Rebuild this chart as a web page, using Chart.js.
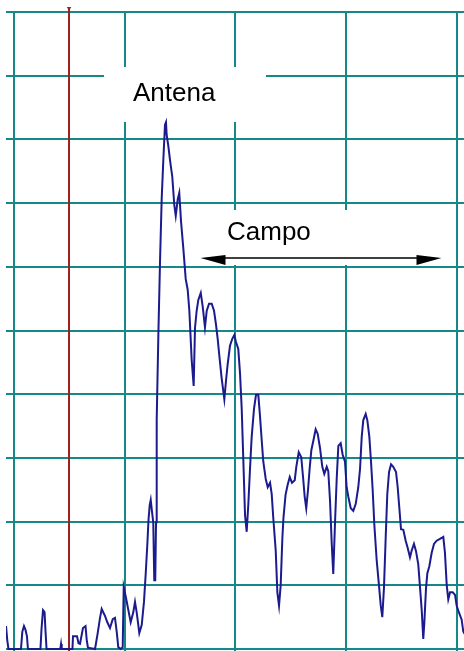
<!DOCTYPE html>
<html>
<head>
<meta charset="utf-8">
<script src="https://cdn.jsdelivr.net/npm/chart.js@4"></script>
<style>
  html, body { margin: 0; padding: 0; background: #ffffff; overflow: hidden; }
  canvas { display: block; }
</style>
</head>
<body>
<canvas id="c" width="464" height="651"></canvas>
<script>
// Spectrum trace: horizontal position (arbitrary units, 100 per division) and level (10 per division)
const freq = [
  -7.2, -6.1, -5.0, 6.3, 7.5, 9.0, 10.4, 11.7, 12.6, 23.9, 24.8, 26.2, 27.6, 28.5, 29.4,
  41.8, 42.5, 43.1, 52.8, 53.3, 56.9, 58.3, 59.6, 62.3, 64.6, 65.7, 66.8, 73.2, 75.6, 77.7,
  79.2, 80.8, 82.2, 84.3, 86.7, 89.2, 91.2, 92.8, 94.2, 96.4, 98.2, 99.1, 101.2, 103.3, 105.4,
  107.8, 109.3, 110.8, 113.2, 115.4, 117.4, 119.0, 120.4, 121.5, 122.6, 123.5, 124.7, 125.8, 126.7, 127.6,
  128.3, 128.9, 130.4, 131.9, 133.4, 134.9, 136.4, 137.3, 137.9, 139.4, 140.9, 143.0, 144.8, 146.1, 147.9,
  149.3, 150.9, 152.9, 155.1, 156.9, 158.4, 160.5, 162.3, 163.5, 165.0, 166.5, 168.7, 170.5, 172.5, 174.1,
  176.2, 178.6, 180.7, 182.5, 184.0, 185.5, 187.6, 190.0, 191.5, 193.0, 195.1, 197.2, 199.0, 200.5, 202.6,
  204.2, 205.7, 207.1, 208.7, 210.2, 211.7, 213.2, 214.7, 216.8, 218.6, 220.7, 222.2, 223.8, 225.2, 227.4,
  229.2, 231.3, 232.8, 234.2, 236.4, 237.9, 239.4, 240.9, 242.4, 243.4, 245.3, 247.1, 249.1, 251.1, 253.6,
  255.0, 257.2, 259.5, 261.1, 262.6, 264.0, 265.6, 267.1, 268.6, 270.4, 272.5, 274.3, 276.4, 278.5, 280.3,
  282.5, 283.9, 285.5, 287.0, 288.4, 290.0, 291.5, 293.0, 295.1, 296.9, 299.0, 300.5, 302.0, 304.2, 306.5,
  308.7, 311.0, 312.6, 314.1, 315.5, 317.7, 319.2, 321.0, 322.5, 324.0, 325.5, 327.6, 329.7, 331.3, 332.7,
  334.2, 335.8, 337.2, 338.8, 340.6, 342.6, 345.1, 346.6, 348.1, 349.6, 351.7, 353.8, 355.6, 357.7, 359.3,
  361.3, 363.1, 365.2, 366.8, 368.3, 369.7, 370.6, 372.2, 373.4, 375.2, 377.3, 379.4, 381.8, 384.8, 387.8,
  389.3, 390.9, 392.3, 393.9, 396.3, 398.4, 399.9, 402.0, 404.4, 405.8, 406.9
];
const level = [
  3.6, 1.4, 0, 0, 2.7, 3.6, 3.0, 2.0, 0, 0, 3.0, 6.1, 5.8, 2.7, 0,
  0, 0.8, 0, 0, 2.0, 2.0, 0.9, 0.8, 3.3, 3.6, 1.4, 0.2, 0, 2.5, 4.9,
  6.3, 5.7, 5.2, 4.2, 3.3, 4.7, 4.9, 2.7, 0.3, 0, 0.3, 9.7, 8.0, 6.1, 4.2,
  5.8, 7.4, 5.8, 2.5, 3.8, 7.4, 11.9, 16.3, 20.3, 22.6, 23.4, 21.5, 19.9, 10.8, 10.8,
  19.9, 35.9, 49.3, 60.8, 70.6, 76.8, 82.3, 82.7, 80.7, 79.0, 76.8, 74.1, 69.7, 68.0, 70.6,
  71.6, 67.1, 63.0, 58.1, 56.4, 53.1, 45.4, 41.3, 50.4, 53.1, 54.8, 55.9, 53.7, 50.5, 53.1,
  54.2, 54.2, 53.1, 50.9, 48.7, 46.0, 42.5, 39.2, 42.1, 44.7, 47.6, 48.7, 49.3, 48.2, 47.1,
  43.2, 37.7, 30.0, 21.0, 18.4, 22.8, 28.3, 33.3, 37.7, 39.9, 39.9, 36.6, 32.7, 29.4, 26.7,
  25.4, 26.1, 24.3, 20.6, 15.5, 8.9, 6.8, 10.0, 17.3, 20.6, 24.2, 25.7, 27.0, 26.1, 26.5,
  28.6, 30.9, 30.1, 27.0, 23.9, 22.1, 25.0, 28.4, 31.2, 32.7, 34.5, 33.8, 31.6, 28.6, 27.5,
  28.6, 27.9, 23.2, 16.6, 11.8, 19.9, 26.7, 31.9, 32.3, 30.5, 29.4, 25.4, 23.9, 22.1, 21.7,
  22.8, 25.4, 28.3, 33.3, 35.9, 36.9, 35.9, 33.3, 29.4, 25.0, 19.5, 14.0, 10.0, 6.8, 5.0,
  9.6, 17.7, 24.3, 27.8, 29.0, 28.6, 27.8, 25.4, 22.1, 18.8, 18.7, 17.0, 15.9, 14.4, 15.5,
  16.5, 15.4, 13.3, 9.6, 6.1, 1.6, 3.9, 9.6, 11.9, 13.0, 15.1, 16.5, 17.0, 17.3, 17.6,
  15.1, 10.0, 7.8, 8.9, 8.9, 8.5, 6.8, 5.7, 4.6, 2.8, 2.4
];

// Grid divisions
const xGridTicks = [0, 100, 200, 300, 400];
const yGridTicks = [0, 10, 20, 30, 40, 50, 60, 70, 80, 90, 100];

// Cursor marker position and its vertical extent
const markerFreq = 49.7;
const markerLevels = [-0.31, 100.6];

// Annotation texts
const antennaLabel = 'Antena';
const fieldLabel = 'Campo';

const trace = freq.map((f, i) => ({ x: f, y: level[i] }));
const marker = markerLevels.map(v => ({ x: markerFreq, y: v }));

const annotations = {
  id: 'annotations',
  beforeDatasetsDraw(chart) {
    const ctx = chart.ctx;
    ctx.save();
    ctx.fillStyle = '#ffffff';
    ctx.fillRect(104, 67, 162, 55);   // backing for "Antena"
    ctx.fillRect(197, 210, 248, 55);  // backing for "Campo" and its arrow
    ctx.restore();
  },
  afterDatasetsDraw(chart) {
    const ctx = chart.ctx;
    ctx.save();
    ctx.fillStyle = '#000000';
    ctx.font = '26px "Liberation Sans", Arial, sans-serif';
    ctx.textBaseline = 'alphabetic';
    ctx.fillText(antennaLabel, 133, 101);
    ctx.fillText(fieldLabel, 227, 240);

    // double-headed arrow
    const y = 258, x1 = 200.5, x2 = 441.5;
    ctx.strokeStyle = '#000000';
    ctx.lineWidth = 1.5;
    ctx.beginPath();
    ctx.moveTo(x1 + 10, y);
    ctx.lineTo(x2 - 10, y);
    ctx.stroke();
    ctx.beginPath();
    ctx.moveTo(x1, y);
    ctx.lineTo(x1 + 25, y - 3);
    ctx.lineTo(x1 + 25, y + 7);
    ctx.closePath();
    ctx.fill();
    ctx.beginPath();
    ctx.moveTo(x2, y);
    ctx.lineTo(x2 - 25, y - 3);
    ctx.lineTo(x2 - 25, y + 7);
    ctx.closePath();
    ctx.fill();
    ctx.restore();
  }
};

const gridColor = 'rgb(22,136,136)';

new Chart(document.getElementById('c'), {
  type: 'line',
  data: {
    datasets: [
      {
        data: trace,
        borderColor: '#1b1b8e',
        borderWidth: 2,
        pointRadius: 0,
        tension: 0,
        fill: false,
        order: 1
      },
      {
        data: marker,
        borderColor: '#9c2020',
        backgroundColor: '#9c2020',
        borderWidth: 2,
        pointRadius: [0, 2.6],
        pointStyle: 'triangle',
        rotation: 180,
        pointBorderWidth: 0,
        tension: 0,
        fill: false,
        clip: false,
        order: 2
      }
    ]
  },
  options: {
    responsive: false,
    animation: false,
    devicePixelRatio: 1,
    layout: { autoPadding: false, padding: { left: 6, top: 12, right: 0, bottom: 0 } },
    plugins: { legend: { display: false }, tooltip: { enabled: false } },
    scales: {
      x: {
        type: 'linear',
        min: -7.23,
        max: 406.5,
        afterBuildTicks: s => { s.ticks = xGridTicks.map(v => ({ value: v })); },
        ticks: { display: false },
        grid: { color: gridColor, lineWidth: 2, drawTicks: false },
        border: { display: false }
      },
      y: {
        type: 'linear',
        min: -0.31,
        max: 100,
        afterBuildTicks: s => { s.ticks = yGridTicks.map(v => ({ value: v })); },
        ticks: { display: false },
        grid: { color: gridColor, lineWidth: 2, drawTicks: false },
        border: { display: false }
      }
    }
  },
  plugins: [annotations]
});
</script>
</body>
</html>
